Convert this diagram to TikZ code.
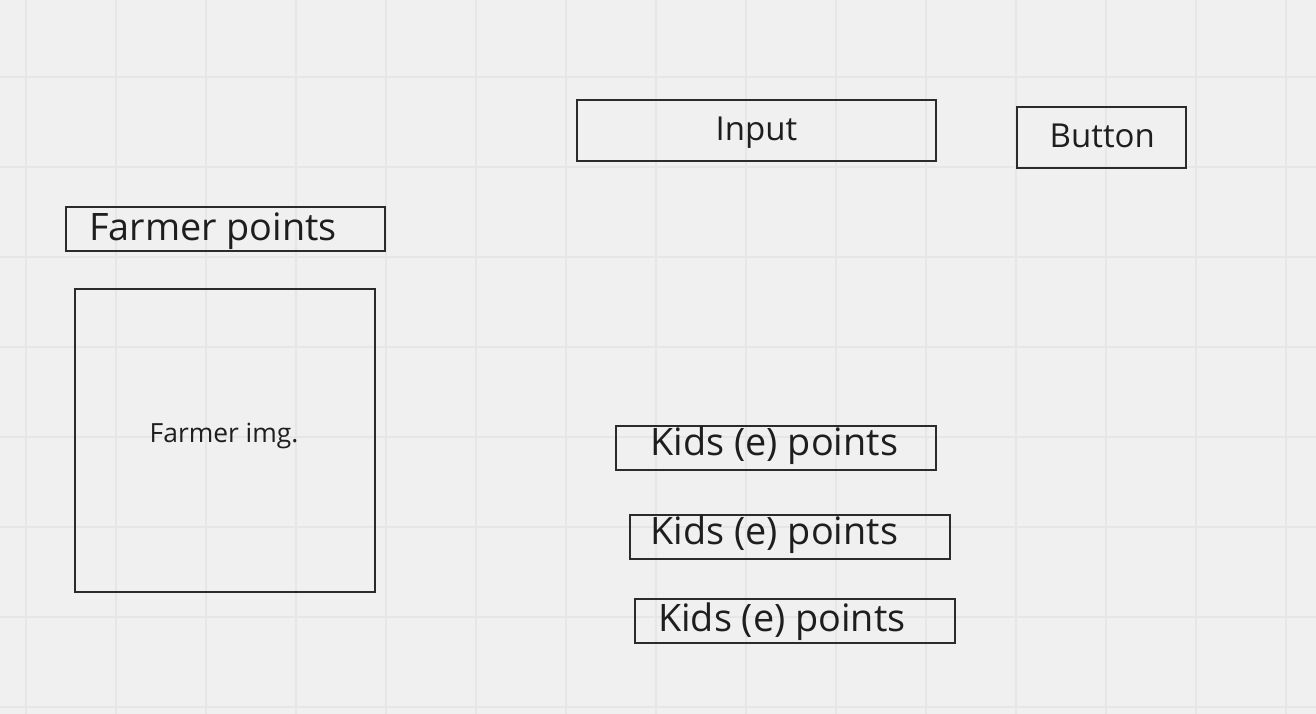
\documentclass[tikz,border=0pt]{standalone}
\usepackage{fontspec}
\setmainfont{Open Sans}
\definecolor{bgc}{HTML}{F0F0F0}
\definecolor{gridc}{HTML}{E6E6E6}
\definecolor{edgec}{HTML}{2B2B2B}
\definecolor{txtc}{HTML}{1E1E1E}
\begin{document}
\begin{tikzpicture}[x=1pt,y=-1pt,
  box/.style={draw=edgec,line width=2pt,rectangle,inner sep=0pt},
  lbl/.style={anchor=base west,inner sep=0pt,text=txtc},
  bigtxt/.style={lbl,font=\fontsize{37.8}{40}\selectfont},
  midtxt/.style={lbl,font=\fontsize{33}{36}\selectfont},
  smalltxt/.style={lbl,font=\fontsize{26.4}{30}\selectfont}]
\useasboundingbox (0,0) rectangle (1316,714);
\fill[bgc] (0,0) rectangle (1316,714);
\foreach \gx in {26,116,...,1316} \draw[gridc,line width=1.3pt] (\gx,0) -- (\gx,714);
\foreach \gy in {77,167,...,714} \draw[gridc,line width=1.3pt] (0,\gy) -- (1316,\gy);
% boxes
\node[box,minimum width=359,minimum height=61] (inputbox) at (756,131) {};
\node[box,minimum width=169,minimum height=61] (buttonbox) at (1101,138) {};
\node[box,minimum width=319,minimum height=44] (fpbox) at (225,228.5) {};
\node[box,minimum width=300,minimum height=303] (imgbox) at (224.7,440.5) {};
\node[box,minimum width=320,minimum height=44.5] (kids1) at (775.5,447.9) {};
\node[box,minimum width=320,minimum height=44] (kids2) at (789.5,536.5) {};
\node[box,minimum width=320,minimum height=44] (kids3) at (794.5,620.5) {};
% texts
\node[midtxt] (inputtxt) at (715.5,141) {Input};
\node[midtxt] (buttontxt) at (1049.5,147.3) {Button};
\node[bigtxt] (fptxt) at (89,240.7) {Farmer points};
\node[smalltxt] (imgtxt) at (149.5,442.3) {Farmer img.};
\node[bigtxt] (k1txt) at (650.5,455.7) {Kids (e) points};
\node[bigtxt] (k2txt) at (650.5,544.3) {Kids (e) points};
\node[bigtxt] (k3txt) at (658,631.7) {Kids (e) points};
\end{tikzpicture}
\end{document}
